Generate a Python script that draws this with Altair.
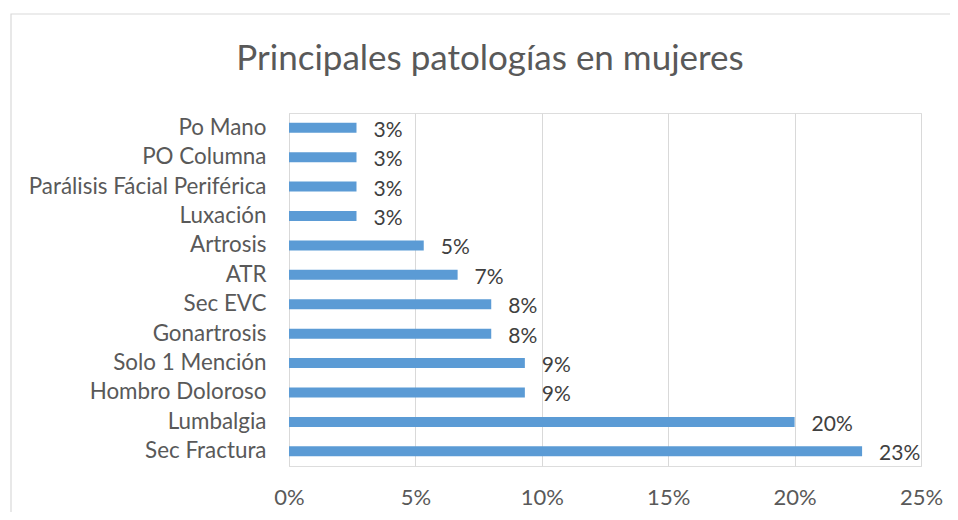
import altair as alt
import pandas as pd

title_text = "Principales patologías en mujeres"
categories = ["Po Mano", "PO Columna", "Parálisis Fácial Periférica", "Luxación",
              "Artrosis", "ATR", "Sec EVC", "Gonartrosis", "Solo 1 Mención",
              "Hombro Doloroso", "Lumbalgia", "Sec Fractura"]
values = [0.0267, 0.0267, 0.0267, 0.0267, 0.0533, 0.0667, 0.08, 0.08,
          0.0933, 0.0933, 0.20, 0.2267]
x_ticks = [0, 0.05, 0.10, 0.15, 0.20, 0.25]

df = pd.DataFrame({"cat": categories, "val": values})

FONT = "Lato"
GREY = "#595959"

y_enc = alt.Y("cat:N", sort=categories, title=None,
              scale=alt.Scale(paddingInner=0, paddingOuter=0),
              axis=alt.Axis(labelFont=FONT, labelFontSize=22.4, labelColor=GREY,
                            ticks=False, domainColor="#d9d9d9", domainWidth=1,
                            labelPadding=23, grid=False, labelLimit=400))
x_enc = alt.X("val:Q", title=None,
              scale=alt.Scale(domain=[0, 0.25], nice=False),
              axis=alt.Axis(values=x_ticks, format=".0%", labelFont=FONT,
                            labelFontSize=22, labelColor=GREY, ticks=False,
                            domain=False, grid=True, gridColor="#d9d9d9",
                            gridWidth=1, labelPadding=21, labelFlush=False))

base = alt.Chart(df)

bars = base.mark_bar(size=10, color="#5B9BD5").encode(x=x_enc, y=y_enc)

labels = base.mark_text(align="left", baseline="middle", dx=17, dy=3,
                        font=FONT, fontSize=21, color="#404040").encode(
    x="val:Q", y=alt.Y("cat:N", sort=categories),
    text=alt.Text("val:Q", format=".0%"))

frame = alt.Chart(pd.DataFrame({"a": [0]})).mark_rect(
    fill=None, stroke="#d9d9d9", strokeWidth=1.2).encode(
    x=alt.value(-278), x2=alt.value(720), y=alt.value(-99), y2=alt.value(520))

title = alt.Chart(pd.DataFrame({"t": [title_text]})).mark_text(
    font=FONT, fontSize=35, color=GREY, align="center",
    baseline="alphabetic").encode(
    x=alt.value(201), y=alt.value(-43), text="t:N")

chart = alt.layer(frame, bars, labels, title).properties(
    width=632, height=353,
    autosize=alt.AutoSizeParams(type="none"),
    padding={"left": 281, "top": 105, "right": 29, "bottom": 46},
).configure_view(stroke=None).configure(background="white")

chart.save("out.html", embed_options={"renderer": "svg", "actions": False})
